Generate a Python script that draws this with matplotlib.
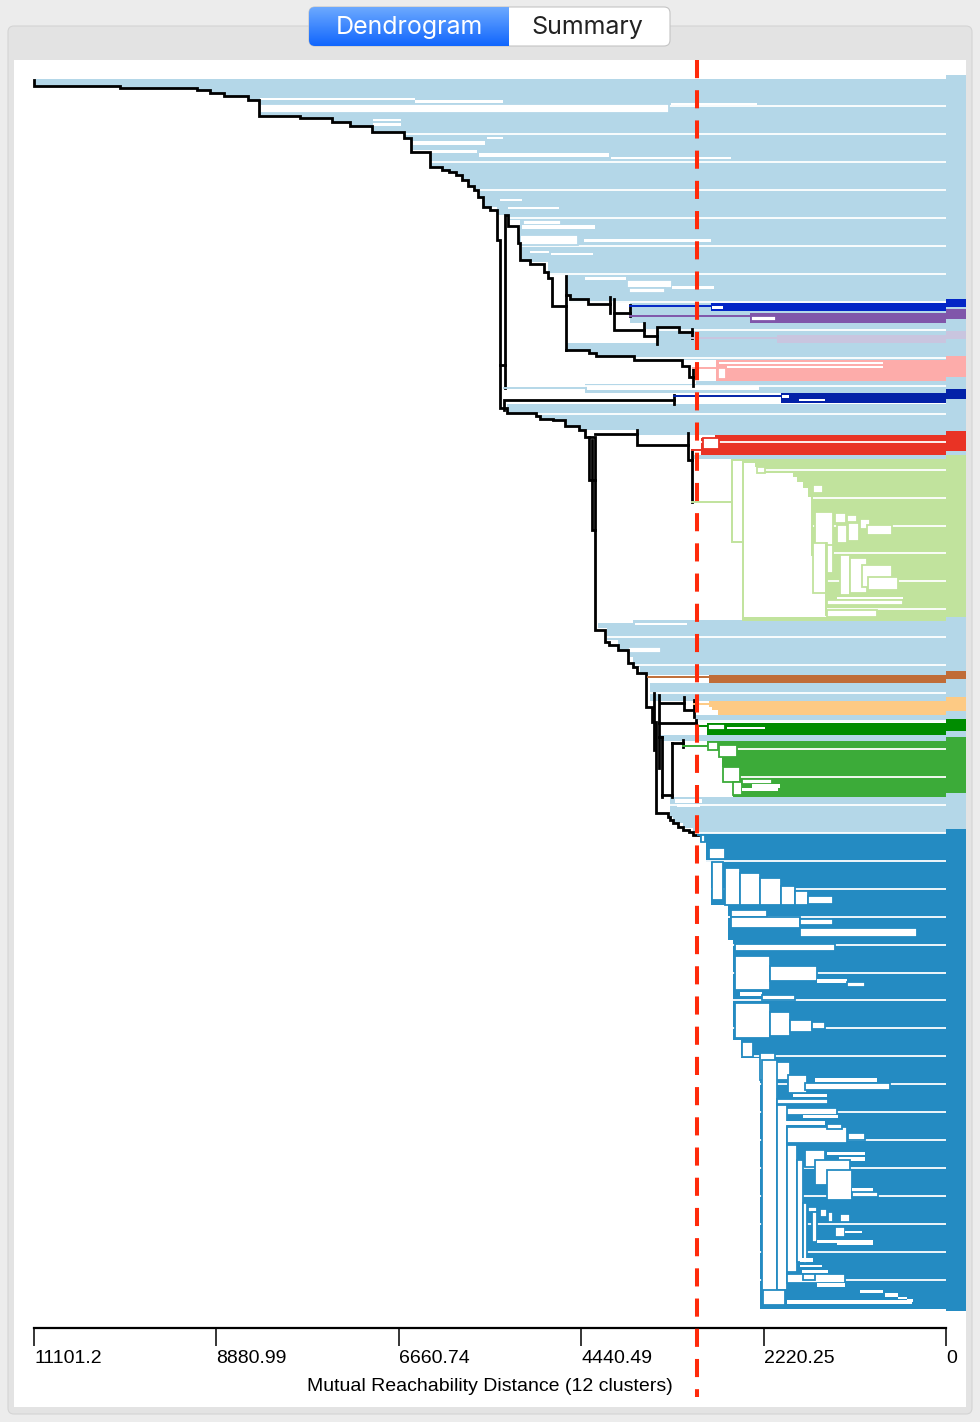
"""Dendrogram view of the mutual reachability tree, 12 clusters."""

import numpy as np
import matplotlib
matplotlib.use('Agg')
import matplotlib.pyplot as plt
from matplotlib.patches import FancyBboxPatch, Rectangle
from matplotlib.colors import LinearSegmentedColormap

plt.rcParams['font.family'] = ['Liberation Sans', 'DejaVu Sans']

# ---------------------------------------------------------------- data
# leaf rows run from the top of the tree (0) downwards, distances as on the axis
max_distance = 11101.2
threshold = 3031
tick_values = [11101.2, 8880.99, 6660.74, 4440.49, 2220.25, 0]
tick_labels = ['11101.2', '8880.99', '6660.74', '4440.49', '2220.25', '0']
axis_label = 'Mutual Reachability Distance (12 clusters)'
tab_labels = ['Dendrogram', 'Summary']

noise_color = '#b4d7e8'
cluster_names = ['db1', 'purple', 'lavender', 'pink', 'db2', 'red',
                 'lightgreen', 'brown', 'orange', 'darkgreen', 'green', 'blue']
cluster_colors = ['#0326c6', '#8056aa', '#c9c5df', '#fdacaa', '#0322a8', '#e93325',
                  '#c1e39d', '#c06c37', '#fdca84', '#008c00', '#3cab39', '#248bc2']

# merge steps of the main (noise) chain: distance, row
spine_dist = [11101, 10054, 9117, 8959, 8788, 8496, 8362, 7863, 7474, 7255,
              6987, 6597, 6512, 6281, 6135, 6049, 5964, 5891, 5818, 5745,
              5696, 5636, 5550, 5465, 5429, 5344, 4991, 4942, 4784, 4638,
              4467, 4394, 4272, 4151, 4102, 3992, 3871, 3810, 3761, 3652,
              3579, 3530, 3384, 3359, 3323, 3262, 3201, 3128, 3080, 3019]
spine_row = [0, 6, 8, 10, 13, 16, 20, 36, 38, 42,
             46, 52, 58, 72, 87, 90, 92, 95, 100, 106,
             110, 117, 127, 130, 160, 328, 333, 336, 339, 340,
             346, 350, 357, 550, 562, 565, 570, 583, 587, 593,
             627, 642, 733, 737, 740, 743, 747, 750, 752, 755]

# (row_top, row_bottom, distance where the leaves join)
noise_bands = [
    (-1, 6, 11089), (6, 8, 10054), (8, 10, 9117), (10, 13, 8959), (13, 16, 8788),
    (16, 20, 8496), (20, 36, 8362), (36, 38, 7863), (38, 42, 7474), (42, 46, 7255),
    (46, 52, 6987), (52, 58, 6597), (58, 72, 6512), (72, 87, 6281), (87, 90, 6135),
    (90, 92, 6049), (92, 95, 5964), (95, 100, 5891), (100, 106, 5818), (106, 110, 5745),
    (110, 117, 5696), (117, 127, 5636), (127, 135, 5465), (135, 140, 5331), (140, 165, 5185),
    (165, 182, 5161), (182, 195, 4844), (195, 216, 4613), (216, 223, 4577), (223, 243, 3846),
    (243, 250, 3676), (250, 263, 3505), (263, 270, 4613), (270, 273, 4345), (273, 276, 4260),
    (276, 280, 3798), (301, 304, 3043), (304, 313, 4394), (324, 333, 5344), (333, 336, 4991),
    (336, 339, 4942), (339, 340, 4784), (340, 346, 4638), (346, 350, 4467), (350, 355, 3761),
    (375, 379, 3067), (540, 543, 3810), (543, 548, 4235), (548, 560, 4126), (560, 570, 3992),
    (570, 577, 3846), (577, 587, 3810), (587, 595, 3725), (603, 621, 3603), (635, 642, 3055),
    (655, 661, 3481), (717, 737, 3359), (737, 743, 3323), (743, 748, 3201), (748, 753, 3080),
]
# gaps inside the noise leaves: (dist_left, dist_right, row_top, row_bottom)
noise_holes = [
    (8350, 6463, 18, 20), (6463, 5392, 20, 23), (8350, 3372, 24, 33), (3347, 2301, 23, 25),
    (6975, 6634, 39, 41), (6975, 6634, 43, 46), (6488, 5611, 61, 65), (5587, 5392, 57, 59),
    (6488, 5709, 70, 73), (5684, 4102, 73, 77), (4078, 2617, 77, 79), (5429, 5161, 119, 121),
    (5331, 4711, 127, 129), (5149, 4686, 140, 145), (5161, 4272, 145, 149), (5185, 4479, 155, 165),
    (4406, 2860, 159, 162), (5064, 4832, 171, 173), (4808, 4297, 173, 175), (4394, 3895, 197, 200),
    (3883, 3335, 200, 208), (3859, 3420, 208, 213), (3335, 2824, 206, 209), (4370, 2276, 306, 310),
    (3785, 3153, 543, 545), (3871, 3469, 567, 573), (3299, 2970, 719, 723), (3274, 2994, 724, 727),
]

db1_bands = [(223, 231, 2860)]
db1_holes = [(2848, 2714, 226, 229)]
purple_bands = [(233, 243, 2386)]
purple_holes = [(2374, 2069, 235.5, 240.5)]
lavender_bands = [(255, 263, 2057)]
lavender_holes = []
pink_bands = [(280, 301, 2800)]
pink_holes = [(2763, 767, 281.5, 284), (2666, 767, 285.5, 288), (2775, 2678, 288, 299)]
db2_bands = [(313, 323, 2008)]
db2_holes = [(1996, 1911, 314.5, 318), (1789, 1473, 319, 321)]
red_bands = [(355, 357.5, 2812), (357.5, 375, 2982)]
red_holes = [(2958, 2763, 358, 369)]
lightgreen_bands = [(379, 383, 2483), (383, 387, 2325), (387, 393, 2203), (393, 397, 1862),
                    (397, 402, 1814), (402, 408, 1741), (408, 417, 1680), (417, 463, 1631),
                    (463, 520, 1461), (520, 532, 1448), (532, 537, 840), (537, 541, 2483)]
lightgreen_holes = [(2301, 2203, 387, 393), (1619, 1497, 405, 413), (1595, 1375, 432, 472),
                    (1351, 1217, 433, 443), (1205, 1083, 435, 442), (1327, 1205, 445, 463),
                    (1193, 1059, 443, 461), (1047, 925, 439, 449), (962, 657, 445, 455),
                    (1619, 1448, 463, 513), (1448, 1375, 465, 493), (1290, 1169, 475, 515),
                    (1169, 962, 478, 513), (1022, 657, 485, 507), (949, 584, 497, 510),
                    (1327, 523, 517, 519), (1448, 523, 520, 525), (1448, 840, 530, 537)]
brown_bands = [(595, 603, 2885)]
brown_holes = []
orange_bands = [(621, 627, 2885), (627, 630, 2848), (630, 635, 2775)]
orange_holes = []
darkgreen_bands = [(643, 655, 2909)]
darkgreen_holes = [(2897, 2690, 644, 650), (2666, 2203, 647, 649)]
green_bands = [(661, 665, 2909), (665, 677, 2544), (677, 687, 2727), (687, 692, 2714),
               (692, 717, 2593)]
green_holes = [(2897, 2775, 662, 670), (2763, 2544, 665, 677), (2714, 2507, 687, 702),
               (2593, 2483, 702, 715), (2483, 2118, 699, 704), (2361, 2021, 704, 708),
               (2483, 2045, 708, 711)]
blue_bands = [(753, 762, 2994), (762, 782, 2921), (782, 825, 2860), (825, 860, 2653),
              (860, 960, 2593), (960, 978, 2495), (978, 1229, 2264)]
blue_holes = [
    (2982, 2933, 755, 762), (2885, 2690, 768, 779), (2848, 2714, 782, 820),
    (2690, 2507, 788, 825), (2507, 2264, 793, 825), (2264, 2008, 798, 825),
    (2008, 1838, 806, 825), (1838, 1680, 811, 825), (1680, 1375, 816, 824),
    (2617, 2179, 830, 837), (2617, 1777, 837, 848), (1777, 1375, 839, 845),
    (1777, 353, 848, 857), (2568, 1351, 864, 871), (2568, 2142, 876, 910),
    (2142, 1570, 886, 901), (1570, 1205, 899, 903), (1205, 986, 902, 907),
    (2507, 2240, 912, 916), (2240, 1838, 915, 920), (2568, 2142, 923, 958),
    (2142, 1899, 932, 956), (1899, 1631, 940, 952), (1631, 1473, 942, 949),
    (2483, 2349, 962, 977), (2264, 2081, 973, 1000), (2081, 1899, 982, 1000),
    (2240, 2057, 980, 1225), (1923, 1692, 995, 1013), (1716, 682, 1003, 1010),
    (1595, 840, 998, 1002), (1862, 1448, 1014, 1017), (2057, 1436, 1019, 1024),
    (2045, 1327, 1028, 1035), (1741, 1315, 1035, 1038), (2057, 1935, 1025, 1210),
    (1996, 1473, 1041, 1045), (1935, 1205, 1047, 1063), (1448, 1266, 1044, 1049),
    (1193, 986, 1053, 1060), (1935, 1814, 1065, 1192), (1814, 1741, 1080, 1182),
    (1716, 1473, 1070, 1087), (1448, 986, 1072, 1075), (1302, 986, 1077, 1081),
    (1595, 1169, 1080, 1105), (1448, 1144, 1090, 1120), (1144, 889, 1108, 1112),
    (1144, 828, 1112, 1117), (1741, 1692, 1123, 1183), (1680, 1570, 1127, 1132),
    (1534, 1448, 1129, 1137), (1436, 1375, 1132, 1142), (1290, 1169, 1134, 1142),
    (1631, 1570, 1132, 1162), (1351, 1229, 1147, 1157), (1229, 1022, 1151, 1153),
    (1570, 889, 1160, 1163), (1327, 889, 1163, 1165), (1777, 1619, 1178, 1182),
    (1777, 1509, 1185, 1187), (1753, 1436, 1190, 1193), (1935, 1229, 1194, 1203),
    (1741, 1595, 1194, 1200), (1570, 1229, 1203, 1207), (1047, 767, 1210, 1213),
    (742, 584, 1213, 1217), (584, 475, 1217, 1219), (475, 402, 1219, 1222),
    (2228, 1960, 1210, 1225), (1935, 414, 1220, 1224),
]

# leaf colour column on the right: (cluster, row_top, row_bottom)
strip_noise = (-5, 1231)
strip_spans = [('db1', 219, 227), ('purple', 229, 239), ('lavender', 251, 259),
               ('pink', 276, 297), ('db2', 309, 319), ('red', 351, 371),
               ('lightgreen', 375, 537), ('brown', 591, 599), ('orange', 617, 631),
               ('darkgreen', 639, 651), ('green', 657, 713), ('blue', 749, 1231)]

# remaining black links of the tree, as (distance, row) paths
black_links = [
    [(5429, 285), (5368, 285)],
    [(5368, 308), (5368, 135), (5331, 135), (5331, 146), (5210, 146), (5210, 163),
     (5185, 163), (5185, 180), (5064, 180), (5064, 184), (4893, 184), (4893, 192),
     (4844, 192), (4844, 198), (4796, 198), (4796, 226), (4625, 226)],
    [(4625, 196), (4625, 270)],
    [(4625, 270), (4345, 270), (4345, 273), (4260, 273), (4260, 276), (3798, 276),
     (3798, 280), (3213, 280), (3213, 286), (3128, 286), (3128, 297), (3080, 297)],
    [(3080, 288), (3080, 306)],
    [(4625, 215), (4577, 215), (4577, 219), (4358, 219), (4358, 224), (4090, 224)],
    [(4090, 217), (4090, 233)],
    [(4041, 219), (4041, 250), (3676, 250)],
    [(4041, 233), (3846, 233)],
    [(3846, 225), (3846, 236)],
    [(3676, 243), (3676, 256), (3518, 256)],
    [(3518, 264), (3518, 247), (3250, 247), (3250, 252), (3092, 252)],
    [(3092, 249), (3092, 258)],
    [(5380, 330), (5380, 320), (3311, 320)],
    [(3311, 315), (3311, 324)],
    [(4345, 357), (4345, 400), (4272, 400)],
    [(4309, 360), (4309, 450), (4272, 450)],
    [(4272, 354), (3761, 354)],
    [(3761, 350), (3761, 365), (3140, 365)],
    [(3140, 353), (3140, 380), (3092, 380)],
    [(3092, 370), (3092, 422)],
    [(3555, 613), (3555, 670)],
    [(3493, 615), (3493, 688)],
    [(3481, 623), (3189, 623)],
    [(3189, 617), (3189, 630), (3067, 630)],
    [(3067, 620), (3067, 637)],
    [(3493, 643), (3043, 643)],
    [(3043, 640), (3043, 647)],
    [(3335, 663), (3201, 663)],
    [(3201, 660), (3201, 667)],
    [(3335, 663), (3335, 717)],
    [(3457, 715), (3335, 715)],
    [(3457, 657), (3457, 717)],
    [(3493, 657), (3457, 657)],
]
# coloured links: (cluster or 'noise', path)
color_links = [
    ('noise', [(5380, 308), (4394, 308)]),
    ('db1', [(3846, 225.5), (2860, 225.5)]),
    ('purple', [(3846, 235.5), (2386, 235.5)]),
    ('lavender', [(3092, 258), (2057, 258)]),
    ('pink', [(3080, 288), (2800, 288)]),
    ('db2', [(3311, 316), (2008, 316)]),
    ('red', [(3092, 370), (2982, 370)]),
    ('lightgreen', [(3092, 422), (2605, 422)]),
    ('lightgreen', [(2483, 380), (2605, 380), (2605, 462), (2471, 462)]),
    ('lightgreen', [(2471, 382), (2471, 540)]),
    ('lightgreen', [(1631, 415), (1631, 475)]),
    ('lightgreen', [(1461, 463), (1461, 535)]),
    ('brown', [(3627, 597), (2885, 597)]),
    ('orange', [(3067, 624), (2885, 624)]),
    ('darkgreen', [(3043, 646), (2909, 646)]),
    ('green', [(3201, 666), (2909, 666)]),
    ('blue', [(3019, 755), (2994, 755)]),
]

colors = dict(zip(cluster_names, cluster_colors))
colors['noise'] = noise_color
cluster_bands = dict(zip(cluster_names, [db1_bands, purple_bands, lavender_bands, pink_bands,
                                         db2_bands, red_bands, lightgreen_bands, brown_bands,
                                         orange_bands, darkgreen_bands, green_bands, blue_bands]))
cluster_holes = dict(zip(cluster_names, [db1_holes, purple_holes, lavender_holes, pink_holes,
                                         db2_holes, red_holes, lightgreen_holes, brown_holes,
                                         orange_holes, darkgreen_holes, green_holes, blue_holes]))

# ---------------------------------------------------------------- window frame
fig = plt.figure(figsize=(9.8, 14.22), dpi=100)
fig.patch.set_facecolor('#ececec')

bg = fig.add_axes([0, 0, 1, 1], zorder=0)
bg.axis('off')
bg.add_patch(FancyBboxPatch((8, 26), 964, 1388, boxstyle='round,pad=0,rounding_size=6',
                            facecolor='#e3e3e3', edgecolor='#d4d4d4', linewidth=0.8))
bg.add_patch(Rectangle((14, 60), 952, 1347, facecolor='white', edgecolor='none'))

control = FancyBboxPatch((309, 7), 361, 39, boxstyle='round,pad=0,rounding_size=6',
                         facecolor='white', edgecolor='#c4c4c4', linewidth=0.8, zorder=2)
bg.add_patch(control)
tab_cmap = LinearSegmentedColormap.from_list('tab', ['#6ca9ff', '#1166fd'])
grad = bg.imshow(np.linspace(0, 1, 64).reshape(-1, 1), cmap=tab_cmap,
                 extent=(309, 508, 46, 7), aspect='auto', zorder=3)
grad.set_clip_path(control)
bg.set_xlim(0, 980)
bg.set_ylim(1422, 0)
tab_font = ['Inter', 'DejaVu Sans']
bg.text(409, 27.5, tab_labels[0], color='white', fontsize=18, ha='center', va='center',
        family=tab_font, zorder=4)
bg.text(587, 27.5, tab_labels[1], color='#222222', fontsize=18, ha='center', va='center',
        family=tab_font, zorder=4)

# ---------------------------------------------------------------- distance axis
xa = fig.add_axes([34 / 980, (1422 - 1328) / 1422, 912 / 980, 0.002], zorder=1)
xa.set_facecolor('none')
xa.set_xlim(max_distance, 0)
xa.set_yticks([])
for side in ('top', 'left', 'right'):
    xa.spines[side].set_visible(False)
xa.spines['bottom'].set_linewidth(1.6)
xa.set_xticks(tick_values, labels=tick_labels)
xa.tick_params(axis='x', direction='out', length=13, width=1.1, pad=3, labelsize=14)
for lab in xa.get_xticklabels():
    lab.set_ha('left')
    lab.set_x(lab.get_position()[0])
xa.set_xlabel(axis_label, fontsize=14, labelpad=8)

# ---------------------------------------------------------------- dendrogram
ax = fig.add_axes([14 / 980, 15 / 1422, 952 / 980, 1347 / 1422], zorder=2)
ax.patch.set_alpha(0)
ax.set_xlim(11344, -243)
ax.set_ylim(1327, -20)
ax.axis('off')

strip_width = 243


def fill_bands(bands, color):
    for top, bottom, start in bands:
        ax.barh((top + bottom) / 2, start, height=bottom - top, left=0,
                color=color, linewidth=0, zorder=1)


def cut_holes(holes, color):
    for d_left, d_right, top, bottom in holes:
        lw = 1.3 if bottom - top > 4 else 0
        ax.barh((top + bottom) / 2, d_left - d_right, height=bottom - top, left=d_right,
                facecolor='white', edgecolor=color, linewidth=lw, zorder=3)


fill_bands(noise_bands, noise_color)
for name in cluster_names:
    fill_bands(cluster_bands[name], colors[name])

# side colour column
ax.barh(sum(strip_noise) / 2, strip_width, height=strip_noise[1] - strip_noise[0],
        left=-strip_width, color=noise_color, linewidth=0, zorder=1)
for name, top, bottom in strip_spans:
    ax.barh((top + bottom) / 2, strip_width, height=bottom - top, left=-strip_width,
            color=colors[name], linewidth=0, zorder=1)

# row separators drawn by the viewer every few leaves
sep_rows = 26.4 + 27.94 * np.arange(43)
ax.hlines(sep_rows, 0, 11344, colors='white', linewidth=1.3, zorder=2)

cut_holes(noise_holes, noise_color)
for name in cluster_names:
    cut_holes(cluster_holes[name], colors[name])

ax.plot(spine_dist, spine_row, drawstyle='steps-pre', color='black', linewidth=2.0,
        solid_joinstyle='miter', zorder=4)
for path in black_links:
    d, r = zip(*path)
    ax.plot(d, r, color='black', linewidth=2.0, solid_joinstyle='miter', zorder=4)
for name, path in color_links:
    d, r = zip(*path)
    ax.plot(d, r, color=colors[name], linewidth=1.4, solid_joinstyle='miter', zorder=4)

ax.plot([threshold, threshold], [-20, 1317], color='#ff2a0a', linewidth=2.9,
        dashes=(4.5, 3), zorder=6)

fig.savefig('out.png', dpi=100)
